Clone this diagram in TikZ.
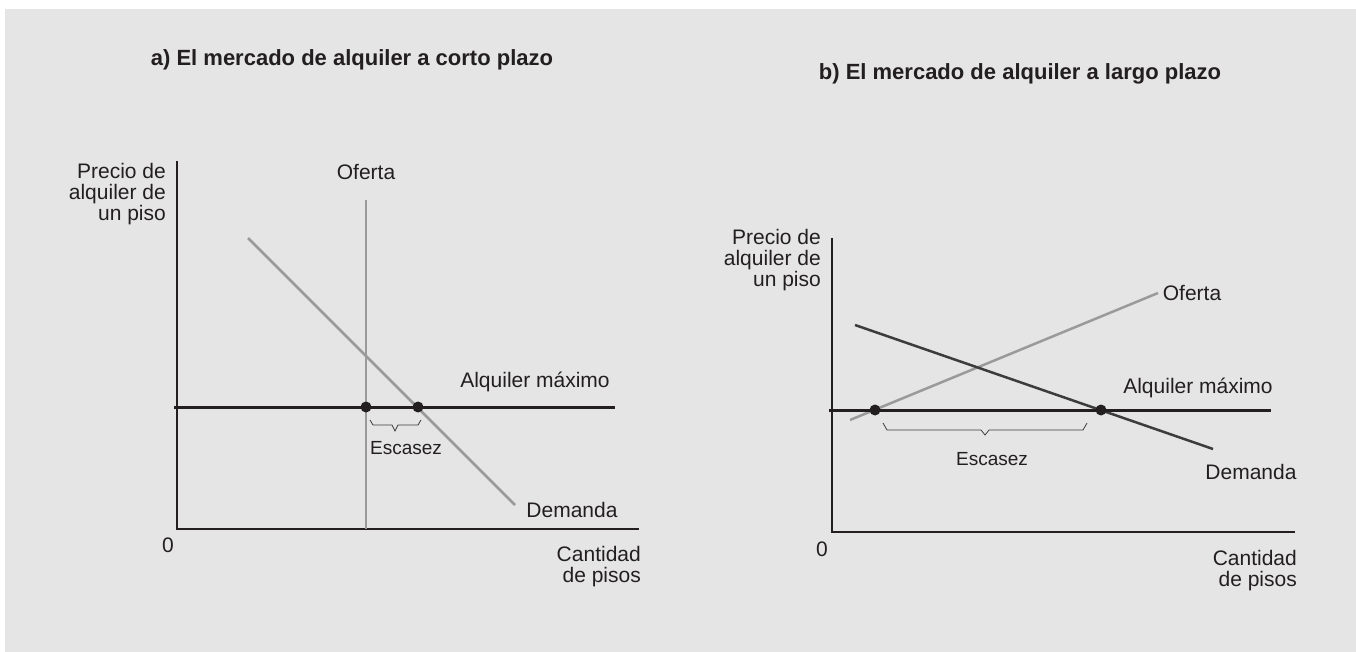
\documentclass[tikz,border=0pt]{standalone}
\usepackage{fontspec}
\setmainfont{Liberation Sans}
\definecolor{bg}{HTML}{E5E5E5}
\definecolor{ink}{HTML}{231F20}
\definecolor{lgray}{HTML}{9A9A9A}
\definecolor{dgray}{HTML}{3C3C3C}
\begin{document}
\begin{tikzpicture}[x=1pt,y=-1pt,
  lbl/.style={font=\fontsize{21}{21}\selectfont, text=ink, inner sep=0pt},
  slbl/.style={font=\fontsize{19}{21}\selectfont, text=ink, inner sep=0pt},
  ttl/.style={font=\fontsize{22}{24}\selectfont\bfseries, text=ink, inner sep=0pt},
  axis/.style={draw=ink, line width=1.5pt},
  ceiling/.style={draw=ink, line width=3pt},
  curveL/.style={draw=lgray, line width=2.5pt},
  curveD/.style={draw=dgray, line width=2.5pt},
  dot/.style={circle, fill=ink, minimum size=11pt, inner sep=0pt},
  brc/.style={draw=dgray, line width=0.8pt}]
\useasboundingbox (0,0) rectangle (1356,652);
\fill[bg] (5,9) rectangle (1356,652);

% ---------- panel a ----------
\node[ttl] (ta) at (352,60) {a) El mercado de alquiler a corto plazo};
\coordinate (aY) at (177,161);
\coordinate (aO) at (177,529);
\coordinate (aX) at (639,529);
\draw[axis] (aY) -- (aO) -- (aX);
\coordinate (aS1) at (366,200);
\coordinate (aS2) at (366,529);
\draw[curveL] (aS1) -- (aS2);
\coordinate (aD1) at (248,238);
\coordinate (aD2) at (515,505);
\draw[curveL] (aD1) -- (aD2);
\coordinate (aC1) at (174,407);
\coordinate (aC2) at (615,407);
\draw[ceiling] (aC1) -- (aC2);
\node[dot] (ad1) at (366,407) {};
\node[dot] (ad2) at (418,407) {};
\draw[brc] (370,420) -- (373,425) -- (392,425) -- (395,431) -- (398,425) -- (418,425) -- (421,420);
\node[lbl, align=right, anchor=east] (apr) at (166,194) {Precio de\\alquiler de\\un piso};
\node[lbl] (aof) at (366,172) {Oferta};
\node[lbl] (aam) at (535,382) {Alquiler máximo};
\node[lbl] (ade) at (572,510) {Demanda};
\node[slbl] (aes) at (406,448) {Escasez};
\node[lbl] (a0) at (168,545) {0};
\node[lbl, align=right, anchor=east] (aca) at (641,567) {Cantidad\\de pisos};

% ---------- panel b ----------
\node[ttl] (tb) at (1020,74) {b) El mercado de alquiler a largo plazo};
\coordinate (bY) at (832,238);
\coordinate (bO) at (832,532);
\coordinate (bX) at (1295,532);
\draw[axis] (bY) -- (bO) -- (bX);
\coordinate (bS1) at (850,420);
\coordinate (bS2) at (1158,293);
\draw[curveL] (bS1) -- (bS2);
\coordinate (bD1) at (855,325);
\coordinate (bD2) at (1213,449);
\draw[curveD] (bD1) -- (bD2);
\coordinate (bC1) at (829,410);
\coordinate (bC2) at (1271,410);
\draw[ceiling] (bC1) -- (bC2);
\node[dot] (bd1) at (875,410) {};
\node[dot] (bd2) at (1101,410) {};
\draw[brc] (883,423) -- (887,430) -- (981,430) -- (985,435) -- (989,430) -- (1083,430) -- (1087,423);
\node[lbl, align=right, anchor=east] (bpr) at (821,260) {Precio de\\alquiler de\\un piso};
\node[lbl] (bof) at (1192,293) {Oferta};
\node[lbl] (bam) at (1198,388) {Alquiler máximo};
\node[lbl] (bde) at (1251,472) {Demanda};
\node[slbl] (bes) at (992,459) {Escasez};
\node[lbl] (b0) at (822,549) {0};
\node[lbl, align=right, anchor=east] (bca) at (1297,571) {Cantidad\\de pisos};
\end{tikzpicture}
\end{document}
